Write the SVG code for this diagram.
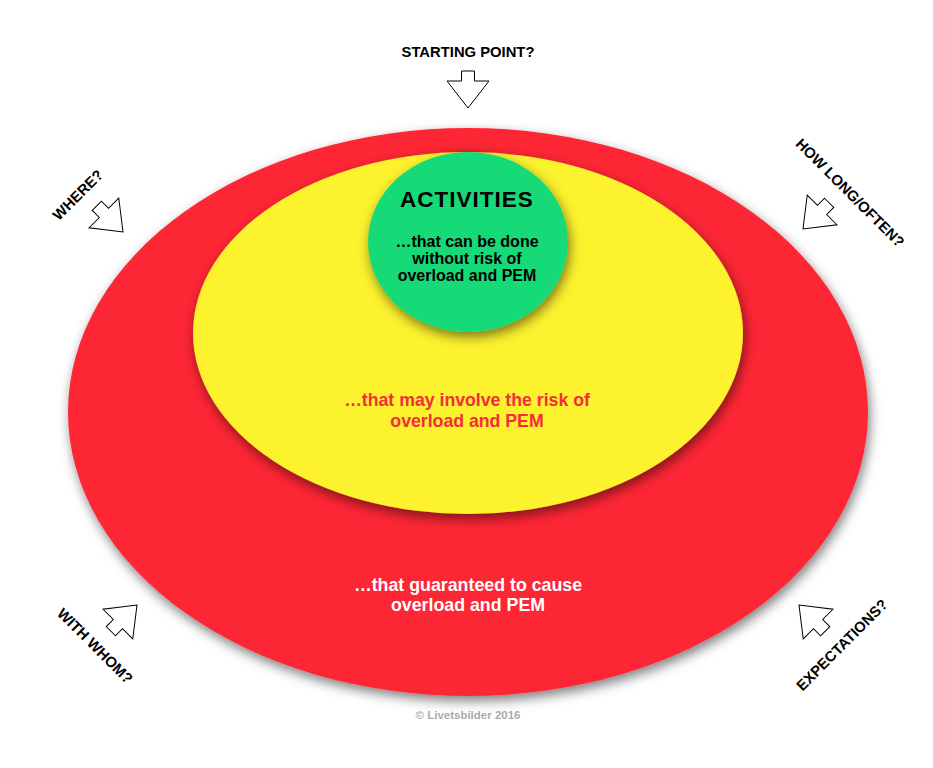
<svg xmlns="http://www.w3.org/2000/svg" width="933" height="768" viewBox="0 0 933 768">
<style>
.lbl{font-family:"Liberation Sans",Arial,sans-serif;font-weight:bold;font-size:14.8px;fill:#000;text-anchor:middle}
.t{font-family:"Liberation Sans",Arial,sans-serif;font-weight:bold;text-anchor:middle}
.arr{fill:#fff;stroke:#000;stroke-width:1}
</style>
<defs>
<filter id="sh" x="-10%" y="-10%" width="120%" height="125%">
<feDropShadow dx="2" dy="5" stdDeviation="6" flood-color="#000" flood-opacity="0.5"/>
</filter>
<path id="a" d="M -6.5,-37 L 6.5,-37 L 6.5,-27 L 21,-27 L 0,0 L -21,-27 L -6.5,-27 Z"/>
</defs>
<rect width="933" height="768" fill="#fff"/>
<g id="outer">
<ellipse cx="468" cy="412" rx="400" ry="284" fill="#fd2836" filter="url(#sh)"/>
<text class="t" font-size="17.8" fill="#fff" x="468" y="591">…that guaranteed to cause</text>
<text class="t" font-size="17.8" fill="#fff" x="468" y="611">overload and PEM</text>
</g>
<g id="middle">
<ellipse cx="468" cy="333" rx="275" ry="181" fill="#fcf22f" filter="url(#sh)"/>
<text class="t" font-size="17.7" fill="#f42d3a" x="467" y="406">…that may involve the risk of</text>
<text class="t" font-size="17.7" fill="#f42d3a" x="467" y="427">overload and PEM</text>
</g>
<g id="inner">
<ellipse cx="468" cy="242" rx="100" ry="90" fill="#16da78" filter="url(#sh)"/>
<text class="t" font-size="22.5" letter-spacing="1" fill="#000" x="467" y="207">ACTIVITIES</text>
<text class="t" font-size="16" fill="#000" x="467" y="247">…that can be done</text>
<text class="t" font-size="16" fill="#000" x="467" y="264">without risk of</text>
<text class="t" font-size="16" fill="#000" x="467" y="281">overload and PEM</text>
</g>
<g id="connectors">
<use href="#a" class="arr" transform="translate(468,108)"/>
<use href="#a" class="arr" transform="translate(123,232) rotate(-45)"/>
<use href="#a" class="arr" transform="translate(803,229) rotate(45)"/>
<use href="#a" class="arr" transform="translate(137,605) rotate(-135)"/>
<use href="#a" class="arr" transform="translate(799,605) rotate(135)"/>
</g>
<g id="labels">
<text class="lbl" x="468" y="57">STARTING POINT?</text>
<text class="lbl" transform="translate(78,195) rotate(-45)" y="5">WHERE?</text>
<text class="lbl" transform="translate(850,193) rotate(45)" y="5">HOW LONG/OFTEN?</text>
<text class="lbl" transform="translate(95,646) rotate(45)" y="5">WITH WHOM?</text>
<text class="lbl" transform="translate(842,645) rotate(-45)" y="5">EXPECTATIONS?</text>
</g>
<text class="t" font-size="11.5" fill="#aaa" x="468" y="719">© Livetsbilder 2016</text>
</svg>
